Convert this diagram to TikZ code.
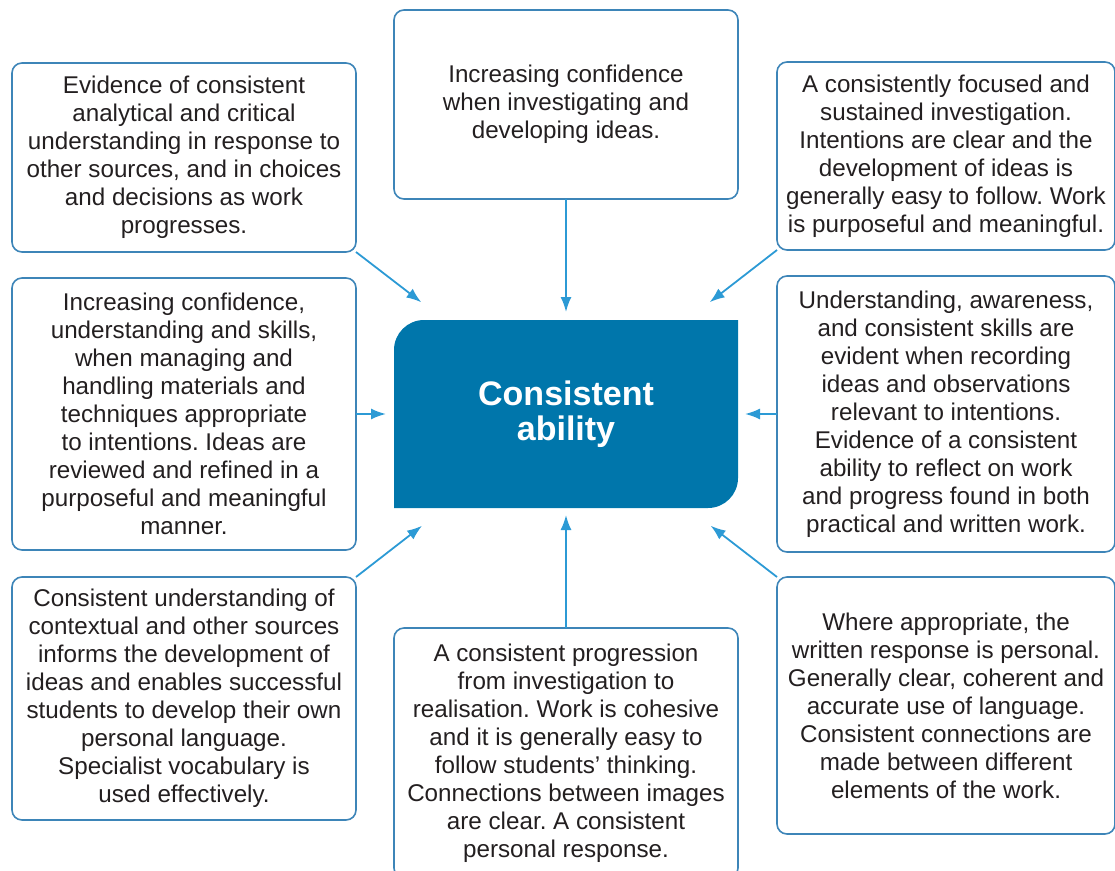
\documentclass[tikz,border=0pt]{standalone}
\usepackage{fontspec}
\setmainfont{Liberation Sans}
\usetikzlibrary{arrows.meta, positioning, backgrounds}
\definecolor{boxline}{HTML}{3D85B8}
\definecolor{arrowblue}{HTML}{2C9AD5}
\definecolor{corefill}{HTML}{0076AB}
\definecolor{inktext}{HTML}{231F20}
\frenchspacing

\begin{document}
\begin{tikzpicture}[
						x=1pt, y=1pt,
						box/.style = {draw=boxline, line width=1.6pt, rounded corners=10pt, align=center, text=inktext, font=\fontsize{24.2}{28}\selectfont, minimum width=344pt, inner sep=0pt, outer sep=0pt},
						rbox/.style = {box, minimum width=338pt},
						core/.style = {minimum width=344pt, minimum height=188pt, align=center, text=white, font=\fontsize{34}{35}\selectfont\bfseries, outer sep=0pt},
						link/.style = {draw=arrowblue, line width=1.8pt, -{Latex[length=15pt, width=11pt]}}
					]
\useasboundingbox (0,0) rectangle (1115,-870);
\clip (0,0) rectangle (1115,-870);

\node[core] (core) at (566,-414) {Consistent\\ability};
\begin{scope}[on background layer]
\fill[corefill] (core.south west) -- ([yshift=-30pt]core.north west) arc[start angle=180, end angle=90, radius=30pt] -- (core.north east) -- ([yshift=30pt]core.south east) arc[start angle=0, end angle=-90, radius=30pt] -- cycle;
\end{scope}

\node[box, minimum height=189pt] (top) [above=121pt of core] {Increasing confidence\\when investigating and\\developing ideas.};
\node[box, minimum height=189pt] (topleft) [above left=68pt and 38pt of core] {Evidence of consistent\\analytical and critical\\understanding in response to\\other sources, and in choices\\and decisions as work\\progresses.};
\node[rbox, minimum height=188pt] (topright) [above right=70pt and 39pt of core] {A consistently focused and\\sustained investigation.\\Intentions are clear and the\\development of ideas is\\generally easy to follow. Work\\is purposeful and meaningful.};
\node[box, minimum height=272pt] (midleft) [left=38pt of core] {Increasing confidence,\\understanding and skills,\\when managing and\\handling materials and\\techniques appropriate\\to intentions. Ideas are\\reviewed and refined in a\\purposeful and meaningful\\manner.};
\node[rbox, minimum height=276pt] (midright) [right=39pt of core] {Understanding, awareness,\\and consistent skills are\\evident when recording\\ideas and observations\\relevant to intentions.\\Evidence of a consistent\\ability to reflect on work\\and progress found in both\\practical and written work.};
\node[box, minimum height=243pt] (botleft) [below left=69pt and 38pt of core] {Consistent understanding of\\contextual and other sources\\informs the development of\\ideas and enables successful\\students to develop their own\\personal language.\\Specialist vocabulary is\\used effectively.};
\node[rbox, minimum height=257pt] (botright) [below right=69pt and 39pt of core] {Where appropriate, the\\written response is personal.\\Generally clear, coherent and\\accurate use of language.\\Consistent connections are\\made between different\\elements of the work.};
\node[box, minimum height=250pt] (bottom) [below=120pt of core] {A consistent progression\\from investigation to\\realisation. Work is cohesive\\and it is generally easy to\\follow students' thinking.\\Connections between images\\are clear. A consistent\\personal response.};

\draw[link, shorten >=8pt] (top) -- (core);
\draw[link, shorten >=7pt] (bottom) -- (core);
\draw[link, shorten >=8pt] (midleft) -- (core);
\draw[link, shorten >=7pt] (midright) -- (core);
\draw[link, shorten >=29pt] (topleft.south east) -- (core);
\draw[link, shorten >=29pt] (topright.south west) -- (core);
\draw[link, shorten >=29pt] (botleft.north east) -- (core);
\draw[link, shorten >=29pt] (botright.north west) -- (core);
\end{tikzpicture}
\end{document}
